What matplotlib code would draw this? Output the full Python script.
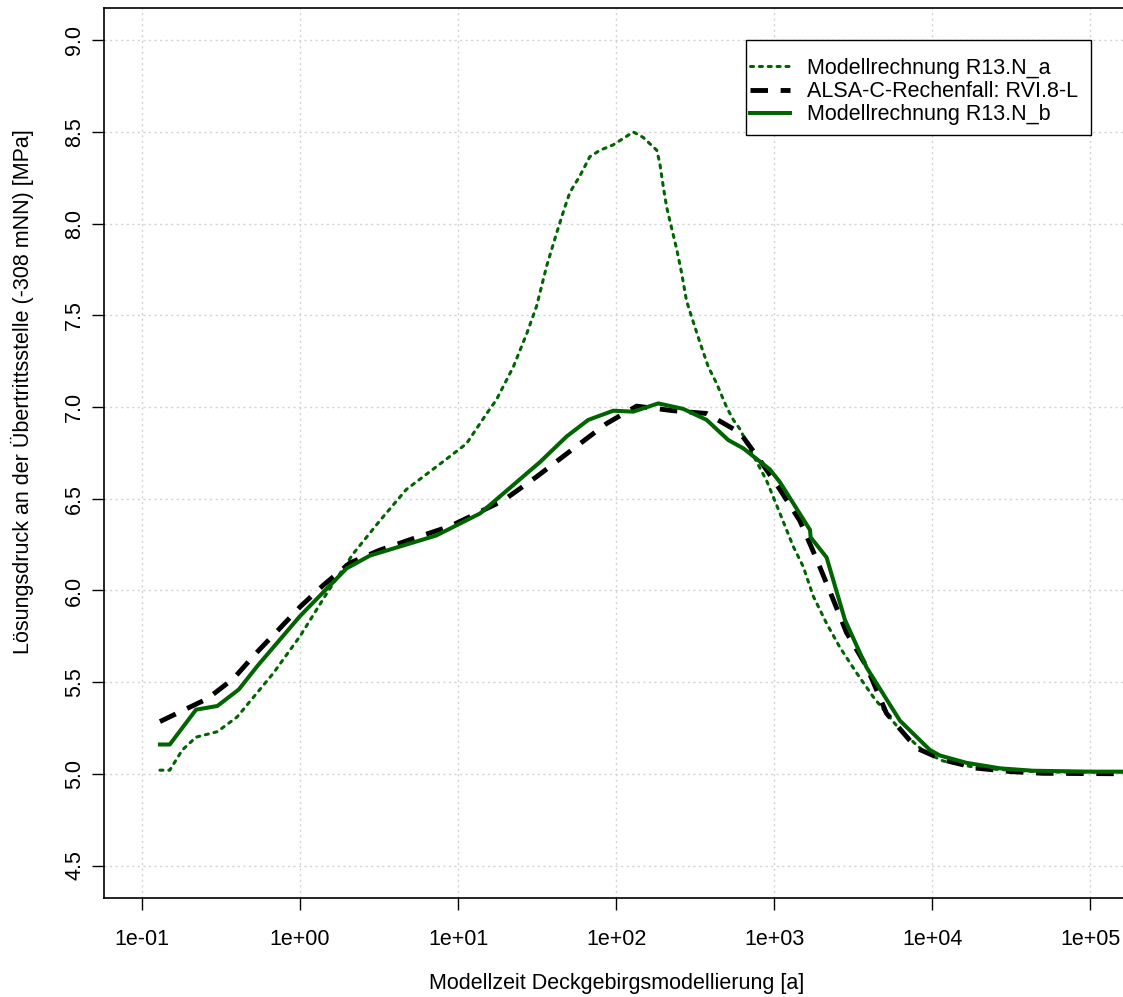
import matplotlib
matplotlib.use("Agg")
import matplotlib.pyplot as plt
from matplotlib.patches import Rectangle
from matplotlib.ticker import FixedLocator, FuncFormatter, NullLocator

plt.rcParams['font.family'] = ['Liberation Sans', 'DejaVu Sans']

# Modellzeit [a] und Lösungsdruck [MPa]
zeit_a = [0.13, 0.15, 0.18, 0.22, 0.30, 0.40, 0.51, 0.68, 0.84, 1.0, 1.48, 2.17, 3.2,
          4.7, 7.7, 11.3, 15.2, 17.5, 22.4, 27.2, 31.4, 36.4, 42.1, 47.4, 51, 59, 68.2,
          79, 96, 128.5, 148.6, 181, 189, 199, 209, 224, 242, 260, 279, 301, 340, 383,
          432, 500, 552, 608, 703, 895, 1089, 1321, 1528, 1766, 2148, 2606, 3327, 4236,
          5140, 6252, 8900, 11750, 20000, 50000, 200000]
druck_a = [5.02, 5.02, 5.13, 5.20, 5.23, 5.31, 5.42, 5.55, 5.66, 5.75, 5.985, 6.20, 6.38,
           6.55, 6.69, 6.80, 6.965, 7.04, 7.22, 7.40, 7.55, 7.77, 7.95, 8.09, 8.17, 8.26,
           8.365, 8.40, 8.43, 8.50, 8.47, 8.40, 8.33, 8.20, 8.09, 7.98, 7.86, 7.73, 7.58,
           7.49, 7.35, 7.22, 7.13, 7.00, 6.93, 6.88, 6.77, 6.60, 6.42, 6.24, 6.13, 5.97,
           5.82, 5.69, 5.55, 5.42, 5.33, 5.24, 5.12, 5.07, 5.03, 5.01, 5.01]

zeit_alsa = [0.13, 0.26, 0.38, 0.53, 0.73, 1.0, 1.41, 2.07, 3.2, 5.5, 8.9, 19.3, 31.4, 59,
             87, 135, 230, 374, 608, 813, 1089, 1455, 1858, 2366, 2871, 3846, 5140, 7960,
             11750, 19100, 31600, 50000, 200000]
druck_alsa = [5.285, 5.41, 5.52, 5.66, 5.785, 5.91, 6.03, 6.15, 6.22, 6.29, 6.35, 6.49,
              6.62, 6.80, 6.91, 7.005, 6.98, 6.965, 6.86, 6.71, 6.55, 6.38, 6.17, 5.95,
              5.77, 5.585, 5.33, 5.14, 5.076, 5.031, 5.012, 5.003, 5.0]

zeit_b = [0.13, 0.15, 0.22, 0.30, 0.41, 0.54, 1.0, 1.97, 2.77, 7.3, 13.8, 33, 48.7, 66.7,
          96, 128.5, 185, 266, 374, 513, 638, 940, 1089, 1687, 1702, 2148, 2805, 3846,
          6252, 9683, 11200, 16500, 26900, 43500, 100000, 200000]
druck_b = [5.16, 5.16, 5.35, 5.37, 5.46, 5.59, 5.86, 6.12, 6.19, 6.30, 6.42, 6.70, 6.84,
           6.93, 6.98, 6.975, 7.02, 6.99, 6.93, 6.82, 6.775, 6.66, 6.59, 6.33, 6.29, 6.18,
           5.84, 5.58, 5.29, 5.13, 5.10, 5.06, 5.03, 5.017, 5.012, 5.012]

x_ticks = [1e-1, 1e0, 1e1, 1e2, 1e3, 1e4, 1e5]
y_ticks = [4.5, 5.0, 5.5, 6.0, 6.5, 7.0, 7.5, 8.0, 8.5, 9.0]

gruen = '#006400'

fig = plt.figure(figsize=(11.23, 9.97), dpi=100)
ax = fig.add_axes([104 / 1123, 99 / 997, (1140 - 104) / 1123, (898 - 8) / 997])

ax.plot(zeit_a, druck_a, color=gruen, lw=2.2, linestyle=(0, (1.0, 1.9)),
        dash_capstyle='round', label='Modellrechnung R13.N_a', zorder=3)
ax.plot(zeit_alsa, druck_alsa, color='black', lw=3.5, linestyle=(0, (3.6, 2.6)),
        dash_capstyle='butt', label='ALSA-C-Rechenfall: RVI.8-L', zorder=4)
ax.plot(zeit_b, druck_b, color=gruen, lw=2.9, linestyle='-',
        label='Modellrechnung R13.N_b', zorder=5)

ax.set_xscale('log')
ax.set_xlim(10 ** -1.24, 10 ** 5.315)
ax.set_ylim(4.323, 9.176)

ax.xaxis.set_major_locator(FixedLocator(x_ticks))
ax.xaxis.set_minor_locator(NullLocator())
ax.xaxis.set_major_formatter(FuncFormatter(lambda v, p: '%.0e' % v))
ax.yaxis.set_major_locator(FixedLocator(y_ticks))
ax.yaxis.set_major_formatter(FuncFormatter(lambda v, p: '%.1f' % v))

ax.tick_params(axis='both', direction='out', length=8.6, width=1.0,
               labelsize=15.5, color='black')
ax.tick_params(axis='x', pad=14)
ax.tick_params(axis='y', pad=5)
for lab in ax.get_yticklabels():
    lab.set_rotation(90)
    lab.set_va('center')

ax.grid(True, color='#d3d3d3', linestyle=(0, (1.5, 2.5)), lw=1.0)
ax.set_axisbelow(True)

for s in ['left', 'bottom', 'top']:
    ax.spines[s].set_linewidth(1.2)
ax.spines['right'].set_visible(False)

fig.text(616.5 / 1123, 1 - 983 / 997, 'Modellzeit Deckgebirgsmodellierung [a]',
         ha='center', va='center', fontsize=15.5)
fig.text(22 / 1123, 1 - 392 / 997,
         'Lösungsdruck an der Übertrittsstelle (-308 mNN) [MPa]',
         ha='center', va='center', rotation=90, fontsize=15.5)

# Legendenrahmen wie im Original (schmaler Rand links/rechts)
box = Rectangle(((746 - 104) / 1036, (898 - 135) / 890), 344.7 / 1036, 95 / 890,
                transform=ax.transAxes, facecolor='white', edgecolor='black',
                lw=1.0, zorder=6, clip_on=False)
ax.add_patch(box)

leg = ax.legend(loc='upper left', bbox_to_anchor=((750 - 104) / 1036, (898 - 58) / 890),
                fontsize=15.5, frameon=False, handlelength=1.86, handletextpad=0.8,
                labelspacing=0.1, borderpad=0, borderaxespad=0)
leg.set_zorder(7)

fig.savefig('out.png', dpi=100)
